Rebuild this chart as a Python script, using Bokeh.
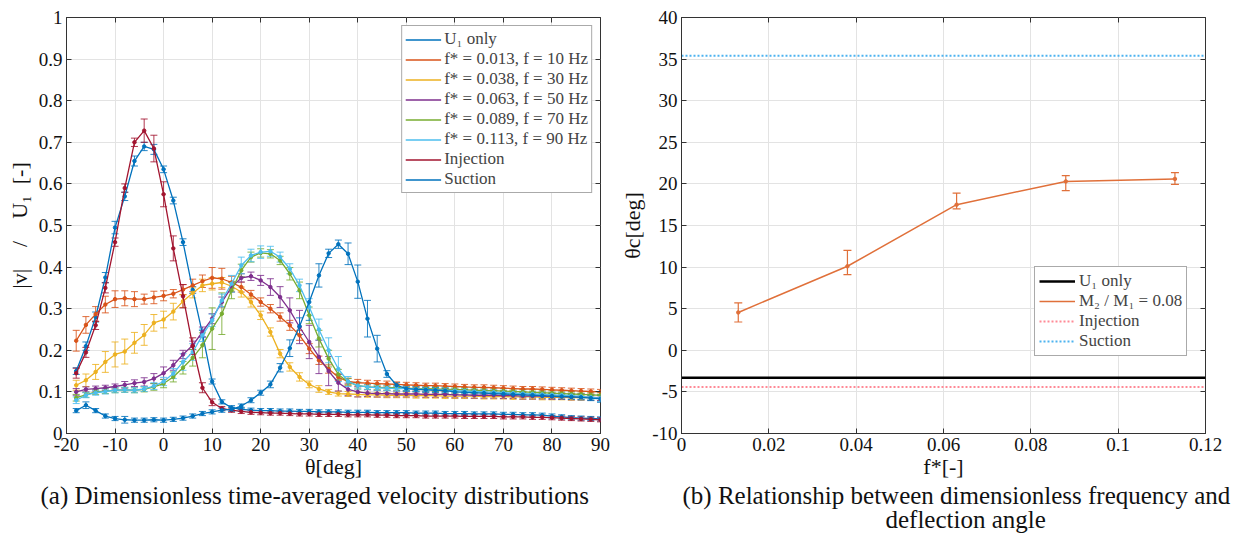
from bokeh.plotting import figure
from bokeh.models import (ColumnDataSource, Whisker, TeeHead, Legend, LegendItem, FixedTicker,
                          CustomJSTickFormatter, LinearAxis, Title, Range1d)
from bokeh.layouts import row
from bokeh.embed import file_html
from bokeh.resources import INLINE

# ---------------- data: panel (a) ----------------
theta = [-18, -16, -14, -12, -10, -8, -6, -4, -2, 0,
         2, 4, 6, 8, 10, 12, 14, 16, 18, 20,
         22, 24, 26, 28, 30, 32, 34, 36, 38, 40,
         42, 44, 46, 48, 50, 52, 54, 56, 58, 60,
         62, 64, 66, 68, 70, 72, 74, 76, 78, 80,
         82, 84, 86, 88, 90]

u1_only = [0.150, 0.210, 0.280, 0.375, 0.495, 0.570, 0.655, 0.690, 0.683, 0.635,
           0.560, 0.460, 0.345, 0.240, 0.125, 0.076, 0.062, 0.058, 0.056, 0.055,
           0.055, 0.054, 0.054, 0.053, 0.053, 0.052, 0.052, 0.052, 0.051, 0.051,
           0.051, 0.050, 0.050, 0.050, 0.050, 0.049, 0.049, 0.049, 0.048, 0.048,
           0.048, 0.047, 0.047, 0.047, 0.046, 0.046, 0.045, 0.045, 0.044, 0.042,
           0.040, 0.038, 0.037, 0.036, 0.035]
u1_only_err = [0.008, 0.010, 0.012, 0.012, 0.015, 0.010, 0.012, 0.010, 0.012, 0.008,
               0.008, 0.008, 0.008, 0.008, 0.006, 0.005, 0.005, 0.005, 0.005, 0.005,
               0.005, 0.005, 0.005, 0.005, 0.005, 0.005, 0.005, 0.005, 0.005, 0.005,
               0.005, 0.005, 0.005, 0.005, 0.005, 0.005, 0.005, 0.005, 0.005, 0.005,
               0.005, 0.005, 0.005, 0.005, 0.005, 0.005, 0.005, 0.005, 0.005, 0.005,
               0.005, 0.005, 0.005, 0.005, 0.005]

f013 = [0.223, 0.261, 0.287, 0.310, 0.323, 0.325, 0.323, 0.323, 0.327, 0.331,
        0.336, 0.346, 0.356, 0.366, 0.374, 0.372, 0.363, 0.352, 0.334, 0.316,
        0.300, 0.280, 0.260, 0.236, 0.204, 0.176, 0.155, 0.135, 0.125, 0.122,
        0.121, 0.120, 0.119, 0.118, 0.117, 0.116, 0.115, 0.115, 0.114, 0.113,
        0.112, 0.111, 0.111, 0.110, 0.109, 0.108, 0.107, 0.107, 0.106, 0.105,
        0.104, 0.103, 0.102, 0.101, 0.100]
f013_err = [0.025, 0.020, 0.018, 0.020, 0.020, 0.018, 0.018, 0.012, 0.015, 0.012,
            0.010, 0.012, 0.015, 0.015, 0.025, 0.025, 0.015, 0.012, 0.010, 0.010,
            0.010, 0.010, 0.012, 0.012, 0.012, 0.010, 0.010, 0.008, 0.008, 0.008,
            0.007, 0.007, 0.007, 0.006, 0.006, 0.006, 0.006, 0.006, 0.006, 0.006,
            0.006, 0.006, 0.006, 0.006, 0.006, 0.006, 0.006, 0.006, 0.006, 0.006,
            0.006, 0.006, 0.006, 0.006, 0.006]

f038 = [0.116, 0.128, 0.148, 0.172, 0.190, 0.197, 0.218, 0.237, 0.266, 0.274,
        0.293, 0.318, 0.338, 0.356, 0.360, 0.363, 0.354, 0.340, 0.316, 0.284,
        0.244, 0.192, 0.160, 0.136, 0.118, 0.107, 0.100, 0.096, 0.095, 0.094,
        0.093, 0.093, 0.092, 0.092, 0.092, 0.091, 0.091, 0.091, 0.090, 0.090,
        0.090, 0.090, 0.089, 0.089, 0.089, 0.088, 0.088, 0.088, 0.087, 0.087,
        0.087, 0.086, 0.086, 0.086, 0.085]
f038_err = [0.012, 0.015, 0.018, 0.025, 0.030, 0.030, 0.025, 0.025, 0.020, 0.020,
            0.020, 0.015, 0.012, 0.015, 0.015, 0.012, 0.012, 0.012, 0.012, 0.010,
            0.010, 0.010, 0.010, 0.010, 0.008, 0.008, 0.006, 0.006, 0.006, 0.006,
            0.006, 0.006, 0.006, 0.006, 0.006, 0.006, 0.006, 0.006, 0.006, 0.006,
            0.006, 0.006, 0.006, 0.006, 0.006, 0.006, 0.006, 0.006, 0.006, 0.006,
            0.006, 0.006, 0.006, 0.006, 0.006]

f063 = [0.100, 0.106, 0.108, 0.110, 0.113, 0.117, 0.121, 0.124, 0.132, 0.145,
        0.164, 0.190, 0.212, 0.244, 0.276, 0.316, 0.352, 0.374, 0.378, 0.368,
        0.352, 0.328, 0.296, 0.256, 0.220, 0.184, 0.150, 0.122, 0.106, 0.100,
        0.097, 0.096, 0.096, 0.095, 0.095, 0.095, 0.094, 0.094, 0.094, 0.093,
        0.093, 0.092, 0.092, 0.092, 0.091, 0.091, 0.090, 0.090, 0.090, 0.089,
        0.089, 0.088, 0.088, 0.087, 0.086]
f063_err = [0.008, 0.006, 0.006, 0.006, 0.006, 0.008, 0.008, 0.010, 0.012, 0.015,
            0.012, 0.010, 0.010, 0.012, 0.012, 0.012, 0.012, 0.010, 0.010, 0.012,
            0.020, 0.025, 0.030, 0.040, 0.040, 0.040, 0.035, 0.020, 0.015, 0.012,
            0.008, 0.008, 0.008, 0.007, 0.007, 0.007, 0.007, 0.007, 0.007, 0.007,
            0.007, 0.007, 0.007, 0.007, 0.007, 0.007, 0.007, 0.007, 0.007, 0.007,
            0.007, 0.007, 0.007, 0.007, 0.007]

f089 = [0.086, 0.093, 0.100, 0.102, 0.104, 0.105, 0.104, 0.106, 0.112, 0.120,
        0.136, 0.158, 0.182, 0.212, 0.252, 0.288, 0.344, 0.392, 0.424, 0.434,
        0.432, 0.416, 0.384, 0.344, 0.284, 0.228, 0.180, 0.142, 0.124, 0.115,
        0.112, 0.111, 0.110, 0.110, 0.109, 0.108, 0.108, 0.107, 0.106, 0.106,
        0.105, 0.104, 0.103, 0.103, 0.102, 0.101, 0.100, 0.099, 0.098, 0.097,
        0.096, 0.095, 0.094, 0.093, 0.092]
f089_err = [0.008, 0.006, 0.006, 0.006, 0.006, 0.006, 0.006, 0.006, 0.008, 0.010,
            0.012, 0.015, 0.020, 0.030, 0.050, 0.050, 0.020, 0.015, 0.012, 0.010,
            0.010, 0.010, 0.015, 0.020, 0.020, 0.020, 0.020, 0.012, 0.008, 0.008,
            0.006, 0.006, 0.006, 0.006, 0.006, 0.006, 0.006, 0.006, 0.006, 0.006,
            0.006, 0.006, 0.006, 0.006, 0.006, 0.006, 0.006, 0.006, 0.006, 0.006,
            0.006, 0.006, 0.006, 0.006, 0.006]

f113 = [0.080, 0.092, 0.098, 0.101, 0.104, 0.105, 0.104, 0.107, 0.114, 0.125,
        0.144, 0.172, 0.196, 0.236, 0.272, 0.320, 0.360, 0.404, 0.428, 0.436,
        0.438, 0.424, 0.396, 0.356, 0.304, 0.250, 0.200, 0.155, 0.125, 0.115,
        0.112, 0.110, 0.109, 0.108, 0.108, 0.107, 0.106, 0.105, 0.104, 0.103,
        0.102, 0.101, 0.100, 0.099, 0.098, 0.097, 0.096, 0.095, 0.094, 0.093,
        0.092, 0.091, 0.089, 0.087, 0.085]
f113_err = [0.008, 0.006, 0.006, 0.006, 0.006, 0.006, 0.006, 0.006, 0.008, 0.010,
            0.012, 0.020, 0.020, 0.015, 0.015, 0.015, 0.020, 0.020, 0.015, 0.015,
            0.012, 0.012, 0.012, 0.015, 0.020, 0.025, 0.030, 0.030, 0.012, 0.008,
            0.006, 0.006, 0.006, 0.006, 0.006, 0.006, 0.006, 0.006, 0.006, 0.006,
            0.006, 0.006, 0.006, 0.006, 0.006, 0.006, 0.006, 0.006, 0.006, 0.006,
            0.006, 0.006, 0.006, 0.006, 0.008]

injection = [0.145, 0.195, 0.260, 0.350, 0.460, 0.590, 0.700, 0.728, 0.685, 0.575,
             0.445, 0.330, 0.210, 0.110, 0.075, 0.060, 0.056, 0.053, 0.051, 0.050,
             0.049, 0.049, 0.048, 0.047, 0.047, 0.046, 0.046, 0.046, 0.045, 0.045,
             0.045, 0.044, 0.044, 0.043, 0.043, 0.043, 0.042, 0.042, 0.042, 0.042,
             0.041, 0.041, 0.041, 0.041, 0.040, 0.040, 0.040, 0.039, 0.039, 0.038,
             0.037, 0.036, 0.035, 0.034, 0.033]
injection_err = [0.012, 0.012, 0.010, 0.012, 0.010, 0.010, 0.010, 0.028, 0.032, 0.030,
                 0.030, 0.028, 0.020, 0.012, 0.008, 0.005, 0.005, 0.005, 0.005, 0.005,
                 0.005, 0.005, 0.005, 0.005, 0.005, 0.005, 0.005, 0.005, 0.005, 0.005,
                 0.005, 0.005, 0.005, 0.005, 0.005, 0.005, 0.005, 0.005, 0.005, 0.005,
                 0.005, 0.005, 0.005, 0.005, 0.005, 0.005, 0.005, 0.005, 0.005, 0.005,
                 0.005, 0.005, 0.005, 0.005, 0.005]

suction = [0.055, 0.068, 0.055, 0.042, 0.036, 0.033, 0.032, 0.032, 0.033, 0.032,
           0.034, 0.037, 0.042, 0.048, 0.052, 0.056, 0.058, 0.066, 0.080, 0.098,
           0.118, 0.158, 0.205, 0.258, 0.316, 0.380, 0.433, 0.455, 0.432, 0.365,
           0.276, 0.204, 0.143, 0.116, 0.108, 0.106, 0.105, 0.104, 0.103, 0.100,
           0.099, 0.098, 0.097, 0.096, 0.095, 0.094, 0.093, 0.092, 0.091, 0.090,
           0.089, 0.088, 0.087, 0.085, 0.083]
suction_err = [0.005, 0.008, 0.005, 0.005, 0.005, 0.008, 0.005, 0.005, 0.005, 0.005,
               0.005, 0.005, 0.005, 0.005, 0.005, 0.005, 0.005, 0.005, 0.006, 0.006,
               0.008, 0.010, 0.020, 0.020, 0.044, 0.028, 0.010, 0.010, 0.026, 0.040,
               0.044, 0.032, 0.008, 0.006, 0.006, 0.006, 0.006, 0.006, 0.006, 0.006,
               0.006, 0.006, 0.006, 0.006, 0.006, 0.006, 0.006, 0.006, 0.006, 0.006,
               0.006, 0.006, 0.006, 0.006, 0.008]

series_a = [
    ("U\u2081 only", u1_only, u1_only_err, "#0072BD"),
    ("f* = 0.013, f = 10 Hz", f013, f013_err, "#D95319"),
    ("f* = 0.038, f = 30 Hz", f038, f038_err, "#EDB120"),
    ("f* = 0.063, f = 50 Hz", f063, f063_err, "#7E2F8E"),
    ("f* = 0.089, f = 70 Hz", f089, f089_err, "#77AC30"),
    ("f* = 0.113, f = 90 Hz", f113, f113_err, "#4DBEEE"),
    ("Injection", injection, injection_err, "#A2142F"),
    ("Suction", suction, suction_err, "#0072BD"),
]

# ---------------- data: panel (b) ----------------
f_star = [0.013, 0.038, 0.063, 0.088, 0.113]
theta_c = [4.55, 10.1, 17.5, 20.3, 20.6]
theta_c_upper = [5.7, 12.0, 18.9, 21.0, 21.35]
theta_c_lower = [3.4, 9.1, 17.0, 19.2, 19.95]
theta_u1_only = -3.3
theta_injection = -4.4
theta_suction = 35.4

FONT = "'Liberation Serif', 'Times New Roman', serif"
GRID = "#e3e3e3"
INK = "#111111"


def fmt():
    return CustomJSTickFormatter(code="return (Math.round(tick*1000)/1000).toString();")


def style(p, xticks, yticks):
    for ax in p.xaxis + p.yaxis:
        ax.major_label_text_font = FONT
        ax.major_label_text_font_size = "19px"
        ax.major_label_text_color = INK
        ax.axis_label_text_font = FONT
        ax.axis_label_text_font_size = "22px"
        ax.axis_label_text_font_style = "normal"
        ax.axis_label_text_color = INK
        ax.axis_line_color = "#333333"
        ax.major_tick_in = 5
        ax.major_tick_out = 0
        ax.minor_tick_line_color = None
        ax.major_tick_line_color = "#333333"
        ax.formatter = fmt()
    p.xaxis.ticker = FixedTicker(ticks=xticks)
    p.yaxis.ticker = FixedTicker(ticks=yticks)
    p.xaxis.major_label_standoff = 4
    p.yaxis.major_label_standoff = 4
    p.xaxis.axis_label_standoff = 0
    p.yaxis.axis_label_standoff = 4
    p.xgrid.ticker = FixedTicker(ticks=xticks)
    p.ygrid.ticker = FixedTicker(ticks=yticks)
    p.xgrid.grid_line_color = GRID
    p.ygrid.grid_line_color = GRID
    p.outline_line_color = "#333333"
    p.outline_line_alpha = 1.0
    # inward ticks on top and right (no labels)
    for loc, ticks in (("above", xticks), ("right", yticks)):
        ax = LinearAxis(ticker=FixedTicker(ticks=ticks),
                        formatter=CustomJSTickFormatter(code="return '';"),
                        major_tick_in=5, major_tick_out=0, minor_tick_line_color=None,
                        axis_line_color=None, major_tick_line_color="#333333",
                        major_label_standoff=0)
        p.add_layout(ax, loc)


def caption(p, text, standoff, offset):
    p.add_layout(Title(text=text, align="left", text_font=FONT, text_font_size="25px",
                       text_font_style="normal", text_color=INK, offset=offset,
                       standoff=standoff), "below")


# ---------------- panel (a) ----------------
p1 = figure(frame_width=534, frame_height=416, x_range=Range1d(-20, 90), y_range=Range1d(0, 1),
            output_backend="svg", toolbar_location=None,
            min_border_left=66, min_border_right=15, min_border_top=17, min_border_bottom=105,
            background_fill_color="white", border_fill_color="white")
p1.xaxis.axis_label = "θ[deg]"
p1.yaxis.axis_label = "|v|\u2003/\u2003U\u2081\u2002[-]"

items_a = []
for label, vals, err, color in series_a:
    src = ColumnDataSource(dict(x=theta, y=vals,
                                upper=[v + e for v, e in zip(vals, err)],
                                lower=[v - e for v, e in zip(vals, err)]))
    ln = p1.line("x", "y", source=src, line_color=color, line_width=1.3)
    p1.scatter("x", "y", source=src, size=3.5, fill_color=color, line_color=color)
    p1.add_layout(Whisker(source=src, base="x", upper="upper", lower="lower", dimension="height",
                          line_color=color, line_width=1, line_alpha=0.85,
                          upper_head=TeeHead(size=7, line_color=color, line_width=1, line_alpha=0.85),
                          lower_head=TeeHead(size=7, line_color=color, line_width=1, line_alpha=0.85)))
    dummy = p1.scatter(x=[], y=[], marker="cross", size=11, line_color=color, line_width=1)
    items_a.append(LegendItem(label=label, renderers=[ln, dummy]))

style(p1, [-20, -10, 0, 10, 20, 30, 40, 50, 60, 70, 80, 90],
      [0, 0.1, 0.2, 0.3, 0.4, 0.5, 0.6, 0.7, 0.8, 0.9, 1.0])

leg_a = Legend(items=items_a, location="top_right", margin=8, padding=3, spacing=0,
               label_text_font=FONT, label_text_font_size="17px", label_height=19,
               glyph_height=19, glyph_width=36, label_standoff=3,
               border_line_color="#555555", border_line_width=1, background_fill_alpha=1)
p1.add_layout(leg_a, "center")
caption(p1, "(a) Dimensionless time-averaged velocity distributions", -3, -26)

# ---------------- panel (b) ----------------
p2 = figure(frame_width=524, frame_height=416, x_range=Range1d(0, 0.12), y_range=Range1d(-10, 40),
            output_backend="svg", toolbar_location=None,
            min_border_left=66, min_border_right=26, min_border_top=17, min_border_bottom=105,
            background_fill_color="white", border_fill_color="white")
p2.xaxis.axis_label = "f*[-]"
p2.yaxis.axis_label = "θc[deg]"

r_u1 = p2.line(x=[0, 0.12], y=[theta_u1_only, theta_u1_only], line_color="black", line_width=2.5)
srcb = ColumnDataSource(dict(x=f_star, y=theta_c, upper=theta_c_upper, lower=theta_c_lower))
r_m = p2.line("x", "y", source=srcb, line_color="#E0703A", line_width=1.5)
p2.scatter("x", "y", source=srcb, size=3.5, fill_color="#E0703A", line_color="#E0703A")
p2.add_layout(Whisker(source=srcb, base="x", upper="upper", lower="lower", dimension="height",
                      line_color="#E0703A", line_width=1.2,
                      upper_head=TeeHead(size=8, line_color="#E0703A", line_width=1.2),
                      lower_head=TeeHead(size=8, line_color="#E0703A", line_width=1.2)))
r_md = p2.scatter(x=[], y=[], marker="cross", size=12, line_color="#E0703A", line_width=1.2)
r_inj = p2.line(x=[0, 0.12], y=[theta_injection, theta_injection], line_color="#FF8A96",
                line_width=2, line_dash="2 2")
r_suc = p2.line(x=[0, 0.12], y=[theta_suction, theta_suction], line_color="#4DB3F0",
                line_width=2, line_dash="2 2")

style(p2, [0, 0.02, 0.04, 0.06, 0.08, 0.1, 0.12], [-10, -5, 0, 5, 10, 15, 20, 25, 30, 35, 40])

leg_b = Legend(items=[LegendItem(label="U\u2081 only", renderers=[r_u1]),
                      LegendItem(label="M\u2082 / M\u2081 = 0.08", renderers=[r_m, r_md]),
                      LegendItem(label="Injection", renderers=[r_inj]),
                      LegendItem(label="Suction", renderers=[r_suc])],
               location=(353, 77), padding=4, spacing=0,
               label_text_font=FONT, label_text_font_size="17px", label_height=20,
               glyph_height=20, glyph_width=36, label_standoff=4,
               border_line_color="#555555", border_line_width=1, background_fill_alpha=1)
p2.add_layout(leg_b, "center")
caption(p2, "(b) Relationship between dimensionless frequency and", -3, 1)
caption(p2, "deflection angle", -8, 204)

layout = row(p1, p2)
open("out.html", "w").write(file_html(layout, INLINE))
